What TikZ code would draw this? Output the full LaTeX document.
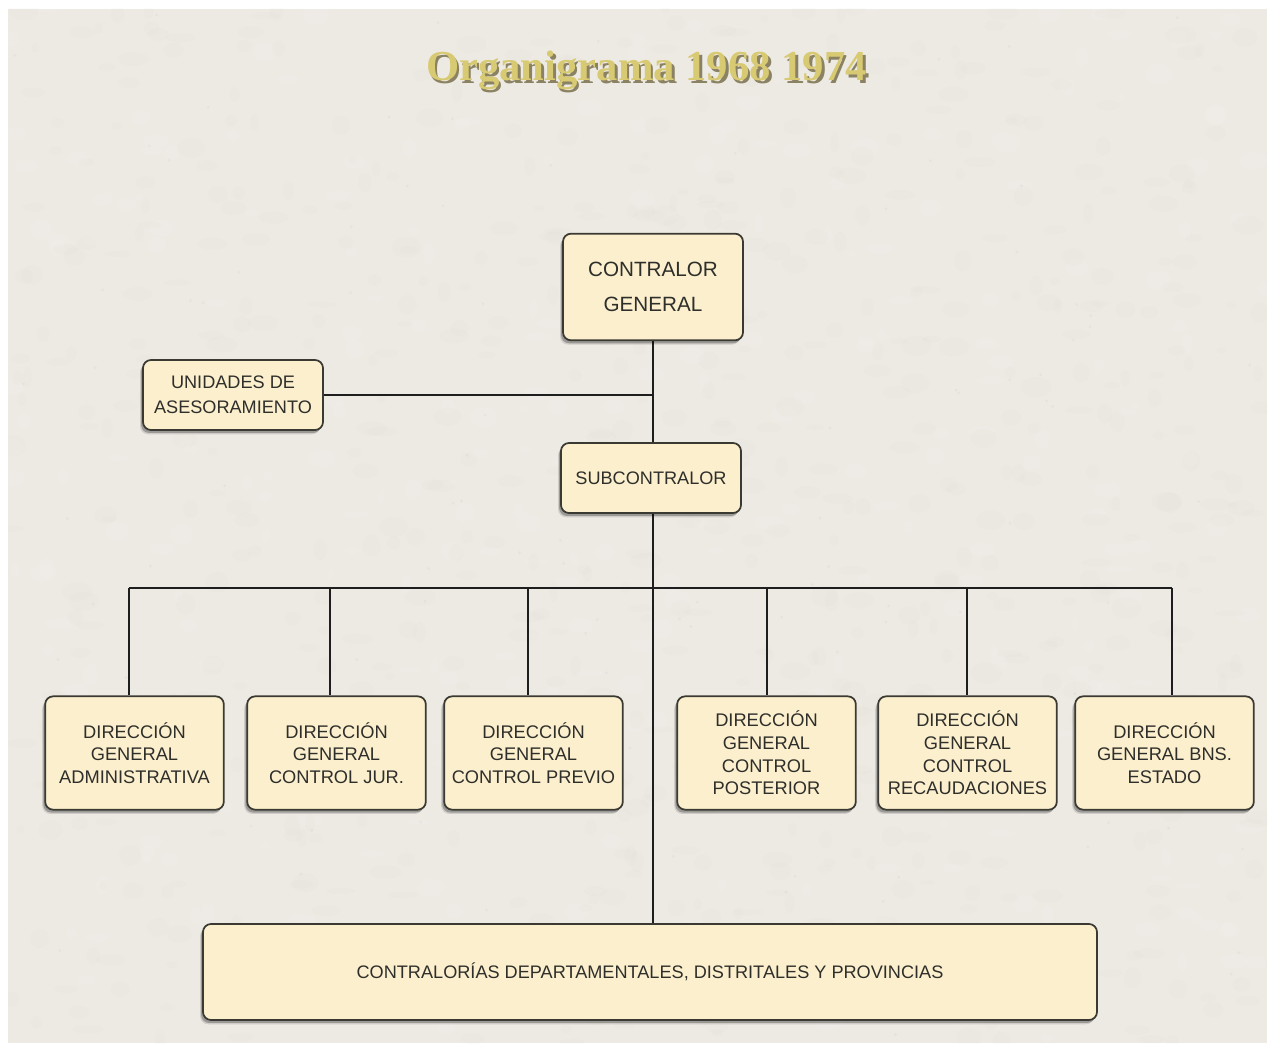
\documentclass[tikz,border=0pt]{standalone}
\usepackage{fontspec}
\setmainfont{Liberation Sans}
\newfontfamily\titlefont{Liberation Serif}
\usetikzlibrary{shadows}

\definecolor{paper}{HTML}{EDEAE4}
\definecolor{fleck}{HTML}{B8B4AA}
\definecolor{boxfill}{HTML}{FBEFCE}
\definecolor{boxline}{HTML}{3A3932}
\definecolor{inktext}{HTML}{2E2E2A}
\definecolor{wire}{HTML}{1E1E1E}
\definecolor{gold}{HTML}{D8CA72}
\definecolor{goldshade}{HTML}{8A8262}

\pgfdeclarelayer{paperlayer}
\pgfdeclarelayer{wirelayer}
\pgfsetlayers{paperlayer,wirelayer,main}

\tikzset{
  unit/.style={draw=boxline, line width=1.3pt, fill=boxfill, rounded corners=6pt,
    align=center, text=inktext, inner sep=0pt,
    drop shadow={shadow xshift=-2.2pt, shadow yshift=-3.2pt, fill=black, opacity=0.12},
    drop shadow={shadow xshift=-1.4pt, shadow yshift=-2.2pt, fill=black, opacity=0.25}},
  topunit/.style={unit, font=\fontsize{15.5}{26}\selectfont},
  midunit/.style={unit, font=\fontsize{13.6}{18.5}\selectfont},
  dirunit/.style={unit, font=\fontsize{13.7}{17}\selectfont,
    minimum width=134pt, minimum height=85pt},
  link/.style={draw=wire, line width=1.4pt},
}

\begin{document}
\begin{tikzpicture}[x=0.75pt, y=-0.75pt]
  % page and paper sheet
  \begin{pgfonlayer}{paperlayer}
    \fill[white] (0,0) rectangle (1272,1045);
    \fill[paper] (8,9) rectangle (1267,1043);
    % fine mottled paper grain
    \begin{scope}
      \clip (8,9) rectangle (1267,1043);
      \pgfmathsetseed{4217}
      \foreach \i in {1,...,700} {
        \pgfmathsetmacro\xx{8+1259*rnd}
        \pgfmathsetmacro\yy{9+1034*rnd}
        \pgfmathsetmacro\rx{3+9*rnd}
        \pgfmathsetmacro\ry{2+6*rnd}
        \fill[fleck, opacity=0.035] (\xx,\yy) ellipse [x radius=\rx pt, y radius=\ry pt];
      }
      \foreach \i in {1,...,300} {
        \pgfmathsetmacro\xx{8+1259*rnd}
        \pgfmathsetmacro\yy{9+1034*rnd}
        \pgfmathsetmacro\rx{3+8*rnd}
        \pgfmathsetmacro\ry{2+6*rnd}
        \fill[white, opacity=0.08] (\xx,\yy) ellipse [x radius=\rx pt, y radius=\ry pt];
      }
      \foreach \i in {1,...,120} {
        \pgfmathsetmacro\xx{8+1259*rnd}
        \pgfmathsetmacro\yy{9+1034*rnd}
        \fill[fleck, opacity=0.12] (\xx,\yy) circle [radius=1.2pt];
      }
    \end{scope}
  \end{pgfonlayer}
  \useasboundingbox (0,0) rectangle (1272,1045);

  % heading with its cast shadow
  \node[font=\titlefont\bfseries\fontsize{32}{36}\selectfont, text=gold] (title) at (646.5,72)
    {\rlap{\kern1.9pt\raisebox{-2.3pt}{\color{goldshade}Organigrama 1968 1974}}Organigrama 1968 1974};

  % units
  \node[topunit, minimum width=135pt, minimum height=80pt] (cg) at (653,287)
    {CONTRALOR\\GENERAL};
  \node[midunit, minimum width=135pt, minimum height=52.5pt] (ua) at (233,395)
    {UNIDADES DE\\ASESORAMIENTO};
  \node[midunit, minimum width=135pt, minimum height=52.5pt] (sc) at (651,478)
    {SUBCONTRALOR};

  \node[dirunit] (d1) at (134.5,753) {DIRECCIÓN\\GENERAL\\ADMINISTRATIVA};
  \node[dirunit] (d2) at (336.5,753) {DIRECCIÓN\\GENERAL\\CONTROL JUR.};
  \node[dirunit] (d3) at (533.5,753) {DIRECCIÓN\\GENERAL\\CONTROL PREVIO};
  \node[dirunit] (d4) at (766.5,753) {DIRECCIÓN\\GENERAL\\CONTROL\\POSTERIOR};
  \node[dirunit] (d5) at (967.5,753) {DIRECCIÓN\\GENERAL\\CONTROL\\RECAUDACIONES};
  \node[dirunit] (d6) at (1164.5,753) {DIRECCIÓN\\GENERAL BNS.\\ESTADO};

  \node[midunit, minimum width=670.5pt, minimum height=72pt] (cd) at (650,972)
    {CONTRALORÍAS DEPARTAMENTALES, DISTRITALES Y PROVINCIAS};

  % bus and drop points
  \coordinate (b1) at (129,588);
  \coordinate (b2) at (330,588);
  \coordinate (b3) at (528,588);
  \coordinate (b4) at (767,588);
  \coordinate (b5) at (967,588);
  \coordinate (b6) at (1172,588);

  % connectors, kept beneath the boxes
  \begin{pgfonlayer}{wirelayer}
    \path[link] (cg.south) -- (cg.south |- cd.north);
    \path[link] (ua.east) -- (ua.east -| cg.south);
    \path[link] (b1) -- (b6);
    \foreach \k in {1,...,6} {
      \path[link] (b\k) -- (b\k |- d\k.north);
    }
  \end{pgfonlayer}
\end{tikzpicture}
\end{document}
